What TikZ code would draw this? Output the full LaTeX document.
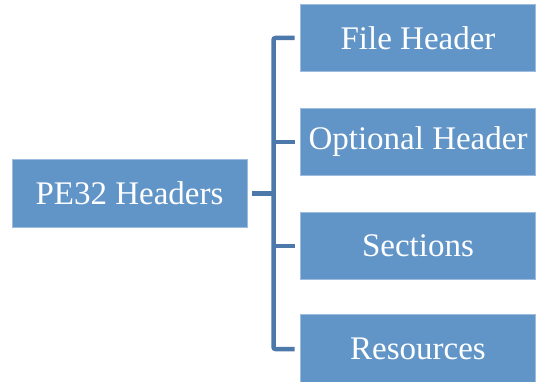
\documentclass[tikz,border=0pt]{standalone}
\usepackage{fontspec}
\setmainfont{Liberation Serif}
\definecolor{boxfill}{HTML}{6195C8}
\definecolor{boxline}{HTML}{9DBDE0}
\definecolor{conncol}{HTML}{4C79AA}
\tikzset{
  hbox/.style={rectangle, fill=boxfill, draw=boxline, line width=0.8pt,
    minimum width=235pt, minimum height=67.5pt, inner sep=0pt,
    text=white, font=\fontsize{33}{40}\selectfont},
  conn/.style={draw=conncol, line width=4.5pt},
}
\begin{document}
\begin{tikzpicture}[x=1pt,y=1pt]
\useasboundingbox (0,0) rectangle (541,381);
\node[hbox, minimum height=68pt] (root) at (129.5,187.5) {PE32 Headers};
\node[hbox] (a) at (418,343) {File Header};
\node[hbox] (b) at (418,239.25) {Optional Header};
\node[hbox] (c) at (418,135.25) {Sections};
\node[hbox, minimum height=69pt] (d) at (418,32) {Resources};
\coordinate (bar) at (273.5,0);
\draw[conn, rounded corners=2pt] ([xshift=-5.5pt]a.west) -- (bar |- a.west) -- (bar |- d.west) -- ([xshift=-5.5pt]d.west);
\draw[conn] ([xshift=-5.5pt]b.west) -- (bar |- b.west);
\draw[conn] ([xshift=-5.5pt]c.west) -- (bar |- c.west);
\draw[conn] ([xshift=5pt]root.east) -- (bar |- root.east);
\end{tikzpicture}
\end{document}
